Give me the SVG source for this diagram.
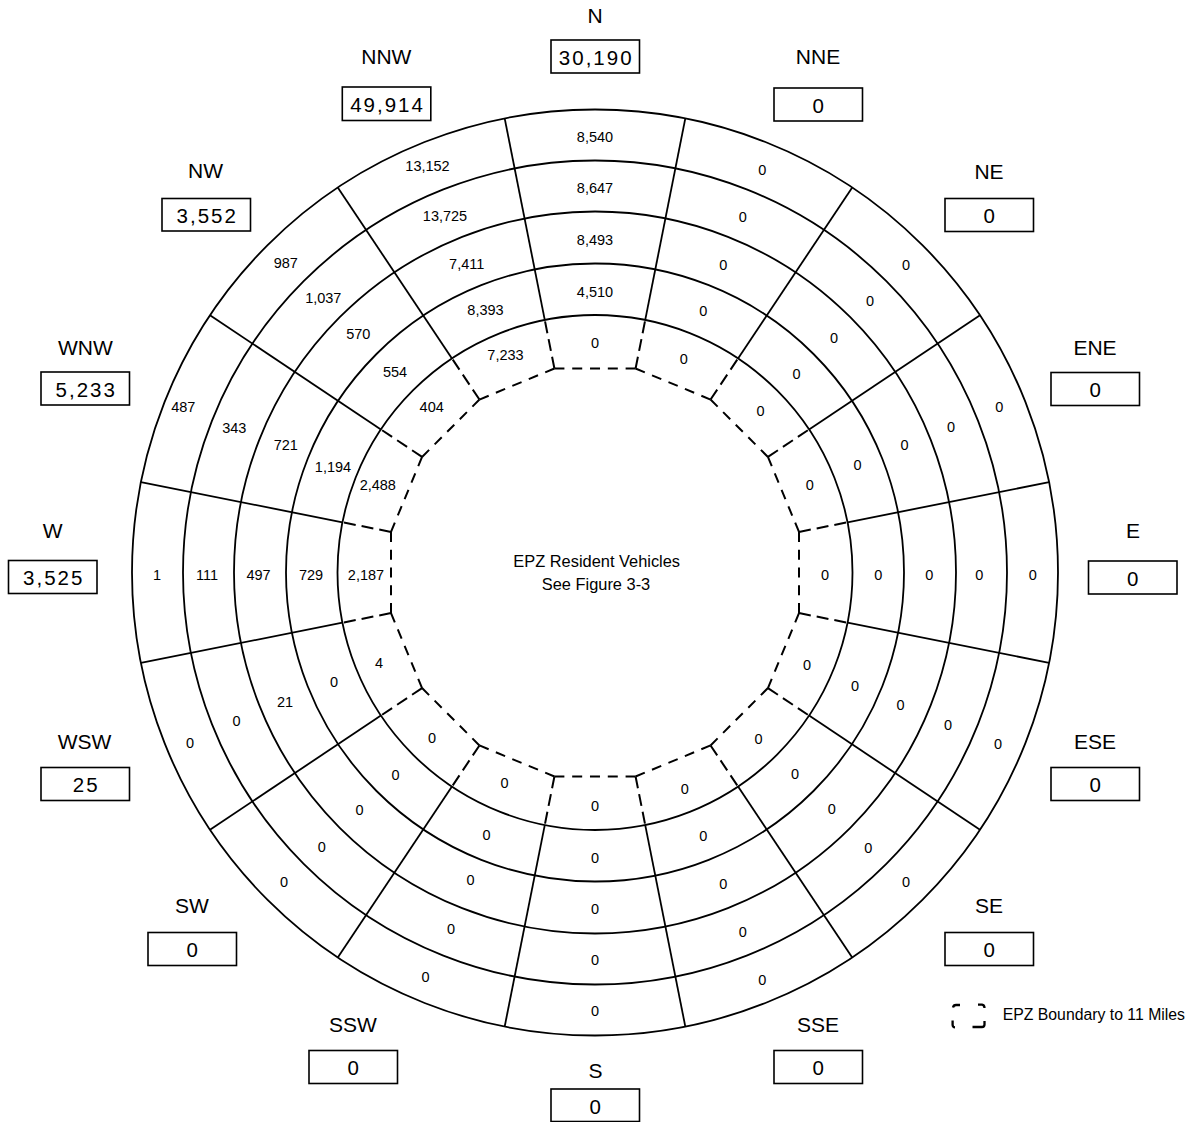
<svg xmlns="http://www.w3.org/2000/svg" xmlns:xlink="http://www.w3.org/1999/xlink" width="1191" height="1122" viewBox="0 0 1191 1122">
<style>
.ring{fill:none;stroke:#000;stroke-width:1.8}
.sect{stroke:#000;stroke-width:1.8;fill:none}
.epz{stroke:#000;stroke-width:2;fill:none}
.edge{stroke-dasharray:10 7.8}
.rad{stroke-dasharray:12 6}
text{font-family:"Liberation Sans",Arial,sans-serif;fill:#000;text-anchor:middle}
.v{font-size:14.5px}
.lbl{font-size:21px}
.box{fill:#fff;stroke:#000;stroke-width:1.6}
.bt{font-size:20.5px;letter-spacing:2px}
.ctr{font-size:16.4px}
.leg{font-size:15.8px;text-anchor:start}
.legsym{fill:none;stroke:#000;stroke-width:2.3}
</style>
<defs>
<line id="sl" x1="595" y1="109.5" x2="595" y2="315"/>
<line id="dl" x1="595" y1="364.5" x2="595" y2="315"/>
<line id="pe" x1="554.42" y1="368.5" x2="635.58" y2="368.5"/>
</defs>
<rect width="1191" height="1122" fill="#fff"/>

<g id="rings" class="ring">
<circle cx="595" cy="572.5" r="463"/>
<circle cx="595" cy="572.5" r="412"/>
<circle cx="595" cy="572.5" r="361"/>
<circle cx="595" cy="572.5" r="309"/>
<circle cx="595" cy="572.5" r="257.5"/>
</g>

<g id="connectors">
<g id="sector-lines" class="sect">
<use xlink:href="#sl" transform="rotate(11.25 595 572.5)"/>
<use xlink:href="#sl" transform="rotate(33.75 595 572.5)"/>
<use xlink:href="#sl" transform="rotate(56.25 595 572.5)"/>
<use xlink:href="#sl" transform="rotate(78.75 595 572.5)"/>
<use xlink:href="#sl" transform="rotate(101.25 595 572.5)"/>
<use xlink:href="#sl" transform="rotate(123.75 595 572.5)"/>
<use xlink:href="#sl" transform="rotate(146.25 595 572.5)"/>
<use xlink:href="#sl" transform="rotate(168.75 595 572.5)"/>
<use xlink:href="#sl" transform="rotate(191.25 595 572.5)"/>
<use xlink:href="#sl" transform="rotate(213.75 595 572.5)"/>
<use xlink:href="#sl" transform="rotate(236.25 595 572.5)"/>
<use xlink:href="#sl" transform="rotate(258.75 595 572.5)"/>
<use xlink:href="#sl" transform="rotate(281.25 595 572.5)"/>
<use xlink:href="#sl" transform="rotate(303.75 595 572.5)"/>
<use xlink:href="#sl" transform="rotate(326.25 595 572.5)"/>
<use xlink:href="#sl" transform="rotate(348.75 595 572.5)"/>
</g>
<g id="epz-radials" class="epz rad">
<use xlink:href="#dl" transform="rotate(11.25 595 572.5)"/>
<use xlink:href="#dl" transform="rotate(33.75 595 572.5)"/>
<use xlink:href="#dl" transform="rotate(56.25 595 572.5)"/>
<use xlink:href="#dl" transform="rotate(78.75 595 572.5)"/>
<use xlink:href="#dl" transform="rotate(101.25 595 572.5)"/>
<use xlink:href="#dl" transform="rotate(123.75 595 572.5)"/>
<use xlink:href="#dl" transform="rotate(146.25 595 572.5)"/>
<use xlink:href="#dl" transform="rotate(168.75 595 572.5)"/>
<use xlink:href="#dl" transform="rotate(191.25 595 572.5)"/>
<use xlink:href="#dl" transform="rotate(213.75 595 572.5)"/>
<use xlink:href="#dl" transform="rotate(236.25 595 572.5)"/>
<use xlink:href="#dl" transform="rotate(258.75 595 572.5)"/>
<use xlink:href="#dl" transform="rotate(281.25 595 572.5)"/>
<use xlink:href="#dl" transform="rotate(303.75 595 572.5)"/>
<use xlink:href="#dl" transform="rotate(326.25 595 572.5)"/>
<use xlink:href="#dl" transform="rotate(348.75 595 572.5)"/>
</g>
<g id="epz-boundary" class="epz edge">
<use xlink:href="#pe"/>
<use xlink:href="#pe" transform="rotate(22.5 595 572.5)"/>
<use xlink:href="#pe" transform="rotate(45 595 572.5)"/>
<use xlink:href="#pe" transform="rotate(67.5 595 572.5)"/>
<use xlink:href="#pe" transform="rotate(90 595 572.5)"/>
<use xlink:href="#pe" transform="rotate(112.5 595 572.5)"/>
<use xlink:href="#pe" transform="rotate(135 595 572.5)"/>
<use xlink:href="#pe" transform="rotate(157.5 595 572.5)"/>
<use xlink:href="#pe" transform="rotate(180 595 572.5)"/>
<use xlink:href="#pe" transform="rotate(202.5 595 572.5)"/>
<use xlink:href="#pe" transform="rotate(225 595 572.5)"/>
<use xlink:href="#pe" transform="rotate(247.5 595 572.5)"/>
<use xlink:href="#pe" transform="rotate(270 595 572.5)"/>
<use xlink:href="#pe" transform="rotate(292.5 595 572.5)"/>
<use xlink:href="#pe" transform="rotate(315 595 572.5)"/>
<use xlink:href="#pe" transform="rotate(337.5 595 572.5)"/>
</g>
</g>

<g id="ring-values" class="v">
<text x="595" y="142">8,540</text><text x="595" y="193">8,647</text><text x="595" y="244.5">8,493</text><text x="595" y="296.5">4,510</text><text x="595" y="347.5">0</text>
<text x="762.4" y="175.3">0</text><text x="742.9" y="222.4">0</text><text x="723.2" y="270">0</text><text x="703.3" y="316">0</text><text x="683.8" y="364">0</text>
<text x="906" y="270.1">0</text><text x="870" y="306.2">0</text><text x="834" y="342.6">0</text><text x="796.5" y="379.4">0</text><text x="760.5" y="415.5">0</text>
<text x="999.2" y="412.1">0</text><text x="951" y="431.6">0</text><text x="904.5" y="450.3">0</text><text x="857.5" y="470.2">0</text><text x="809.8" y="490.2">0</text>
<text x="1032.7" y="579.5">0</text><text x="979.3" y="579.5">0</text><text x="929.3" y="579.5">0</text><text x="878.3" y="579.5">0</text><text x="825" y="579.5">0</text>
<text x="998" y="749">0</text><text x="948" y="730">0</text><text x="900.5" y="709.7">0</text><text x="855" y="690.8">0</text><text x="807" y="670.3">0</text>
<text x="906" y="887">0</text><text x="868.3" y="852.8">0</text><text x="831.9" y="814.4">0</text><text x="795.1" y="778.6">0</text><text x="758.5" y="743.5">0</text>
<text x="762.4" y="984.7">0</text><text x="742.9" y="936.6">0</text><text x="723.2" y="889">0</text><text x="703.3" y="841">0</text><text x="684.8" y="793.8">0</text>
<text x="595" y="1016">0</text><text x="595" y="965">0</text><text x="595" y="914">0</text><text x="595" y="862.5">0</text><text x="595" y="811">0</text>
<text x="425.6" y="981.7">0</text><text x="451" y="934">0</text><text x="470.5" y="885">0</text><text x="486.5" y="840">0</text><text x="504.5" y="788">0</text>
<text x="284" y="887">0</text><text x="321.7" y="852">0</text><text x="359.5" y="815">0</text><text x="395.5" y="779.6">0</text><text x="432" y="742.5">0</text>
<text x="190" y="747.5">0</text><text x="236.5" y="726">0</text><text x="285" y="706.5">21</text><text x="334" y="686.5">0</text><text x="379" y="667.5">4</text>
<text x="157" y="580">1</text><text x="207" y="580">111</text><text x="258.5" y="580">497</text><text x="311" y="580">729</text><text x="366" y="580">2,187</text>
<text x="183.3" y="411.7">487</text><text x="234.3" y="433">343</text><text x="285.8" y="450.3">721</text><text x="333" y="472.2">1,194</text><text x="377.8" y="489.7">2,488</text>
<text x="285.8" y="268.3">987</text><text x="323.3" y="303.3">1,037</text><text x="358.3" y="339.3">570</text><text x="395" y="376.7">554</text><text x="431.7" y="411.7">404</text>
<text x="427.5" y="171">13,152</text><text x="445" y="220.5">13,725</text><text x="466.7" y="269">7,411</text><text x="485.5" y="315">8,393</text><text x="505.5" y="360">7,233</text>
</g>

<g id="center-label" class="ctr">
<text x="596.7" y="566.7">EPZ Resident Vehicles</text>
<text x="596" y="589.5">See Figure 3-3</text>
</g>

<g id="dir-N"><text class="lbl" x="595" y="23.3">N</text><rect class="box" x="551" y="40" width="88.5" height="33"/><text class="bt" x="596.2" y="64.5">30,190</text></g>
<g id="dir-NNE"><text class="lbl" x="818" y="63.5">NNE</text><rect class="box" x="774" y="88" width="88.5" height="33"/><text class="bt" x="819.2" y="112.5">0</text></g>
<g id="dir-NE"><text class="lbl" x="989" y="178.5">NE</text><rect class="box" x="945" y="198.5" width="88.5" height="33"/><text class="bt" x="990.2" y="223">0</text></g>
<g id="dir-ENE"><text class="lbl" x="1095" y="354.5">ENE</text><rect class="box" x="1051" y="372.5" width="88.5" height="33"/><text class="bt" x="1096.2" y="397">0</text></g>
<g id="dir-E"><text class="lbl" x="1133" y="538.3">E</text><rect class="box" x="1088.5" y="561" width="88.5" height="33"/><text class="bt" x="1133.7" y="585.5">0</text></g>
<g id="dir-ESE"><text class="lbl" x="1095" y="748.5">ESE</text><rect class="box" x="1051" y="767.5" width="88.5" height="33"/><text class="bt" x="1096.2" y="792">0</text></g>
<g id="dir-SE"><text class="lbl" x="989" y="912.5">SE</text><rect class="box" x="945" y="932.5" width="88.5" height="33"/><text class="bt" x="990.2" y="957">0</text></g>
<g id="dir-SSE"><text class="lbl" x="818" y="1031.5">SSE</text><rect class="box" x="774" y="1050.5" width="88.5" height="33"/><text class="bt" x="819.2" y="1075">0</text></g>
<g id="dir-S"><text class="lbl" x="595.5" y="1078.3">S</text><rect class="box" x="551" y="1089" width="88.5" height="32.5"/><text class="bt" x="596.2" y="1113.5">0</text></g>
<g id="dir-SSW"><text class="lbl" x="353" y="1031.5">SSW</text><rect class="box" x="309" y="1050.5" width="88.5" height="33"/><text class="bt" x="354.2" y="1075">0</text></g>
<g id="dir-SW"><text class="lbl" x="192" y="912.5">SW</text><rect class="box" x="148" y="932.5" width="88.5" height="33"/><text class="bt" x="193.2" y="957">0</text></g>
<g id="dir-WSW"><text class="lbl" x="84.5" y="748.5">WSW</text><rect class="box" x="41" y="767.5" width="88.5" height="33"/><text class="bt" x="86.2" y="792">25</text></g>
<g id="dir-W"><text class="lbl" x="52.7" y="538.3">W</text><rect class="box" x="8.5" y="560.5" width="88.5" height="33"/><text class="bt" x="53.7" y="585">3,525</text></g>
<g id="dir-WNW"><text class="lbl" x="85.3" y="355">WNW</text><rect class="box" x="41" y="372" width="88.5" height="33"/><text class="bt" x="86.2" y="396.5">5,233</text></g>
<g id="dir-NW"><text class="lbl" x="205.5" y="178.3">NW</text><rect class="box" x="162" y="198.5" width="88.5" height="32.5"/><text class="bt" x="207.2" y="223">3,552</text></g>
<g id="dir-NNW"><text class="lbl" x="386.3" y="64">NNW</text><rect class="box" x="342.3" y="87" width="88.5" height="33.5"/><text class="bt" x="387.5" y="111.7">49,914</text></g>

<g id="legend">
<g class="legsym">
<path d="M953,1007.5 Q953.5,1005 956,1005 L960,1005"/>
<path d="M978,1004.7 L982,1004.7 Q984.5,1005 984.5,1008"/>
<path d="M952.6,1020.5 L952.6,1025 Q952.8,1027.3 955,1027.4"/>
<path d="M972.5,1027 L982,1027 Q984.5,1027 984.5,1024.5 L984.5,1021"/>
</g>
<text class="leg" x="1002.7" y="1020">EPZ Boundary to 11 Miles</text>
</g>
</svg>
